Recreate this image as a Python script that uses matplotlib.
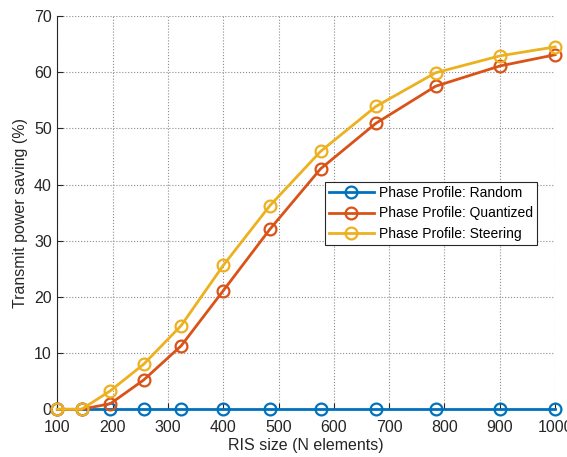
import numpy as np
import matplotlib.pyplot as plt

# RIS sizes (N elements) and transmit power saving (%)
ris_size = [100, 144, 196, 256, 324, 400, 484, 576, 676, 784, 900, 1000]
saving_random = [0, 0, 0, 0, 0, 0, 0, 0, 0, 0, 0, 0]
saving_quantized = [0, 0, 1.0, 5.2, 11.3, 21.1, 32.0, 42.8, 50.9, 57.5, 61.1, 63.1]
saving_steering = [0, 0, 3.3, 8.0, 14.9, 25.6, 36.2, 45.9, 53.9, 59.9, 62.9, 64.5]
labels = ["Phase Profile: Random", "Phase Profile: Quantized", "Phase Profile: Steering"]

colors = [(0, 0.447, 0.741), (0.85, 0.325, 0.098), (0.929, 0.694, 0.125)]
txt_color = (0.15, 0.15, 0.15)

plt.rcParams['font.family'] = ['Liberation Sans', 'DejaVu Sans']

fig = plt.figure(figsize=(5.67, 4.57), dpi=100)
ax = fig.add_axes([0.101, 0.1044, 0.878, 0.8606])

for ys, c, lab in zip([saving_random, saving_quantized, saving_steering], colors, labels):
    ax.plot(ris_size, ys, color=c, lw=2, marker='o', ms=8.5, mfc='none',
            mec=c, mew=1.6, label=lab, clip_on=False, zorder=3)

ax.set_xlim(100, 1000)
ax.set_ylim(0, 70)
ax.set_xticks(np.arange(100, 1001, 100))
ax.set_yticks(np.arange(0, 71, 10))
ax.grid(True, linestyle=':', color=(0.55, 0.55, 0.55), lw=0.8)
ax.set_axisbelow(True)
for s in ['top', 'right']:
    ax.spines[s].set_visible(False)
for s in ['left', 'bottom']:
    ax.spines[s].set_color(txt_color)
    ax.spines[s].set_linewidth(0.8)
ax.tick_params(direction='in', length=4, width=0.8, colors=txt_color,
               labelsize=11.5)
ax.tick_params(axis='x', pad=8)
ax.tick_params(axis='y', pad=4)

ax.set_xlabel("RIS size (N elements)", fontsize=11.5, color=txt_color, labelpad=2)
ax.set_ylabel("Transmit power saving (%)", fontsize=11.5, color=txt_color, labelpad=4)

leg = ax.legend(loc='upper left', bbox_to_anchor=(0.538, 0.578), fontsize=10,
                fancybox=False, framealpha=1, edgecolor=txt_color,
                handlelength=3.2, borderpad=0.3, labelspacing=0.45,
                handletextpad=0.4, borderaxespad=0)
leg.get_frame().set_linewidth(0.8)

fig.savefig("out.png", dpi=100)
